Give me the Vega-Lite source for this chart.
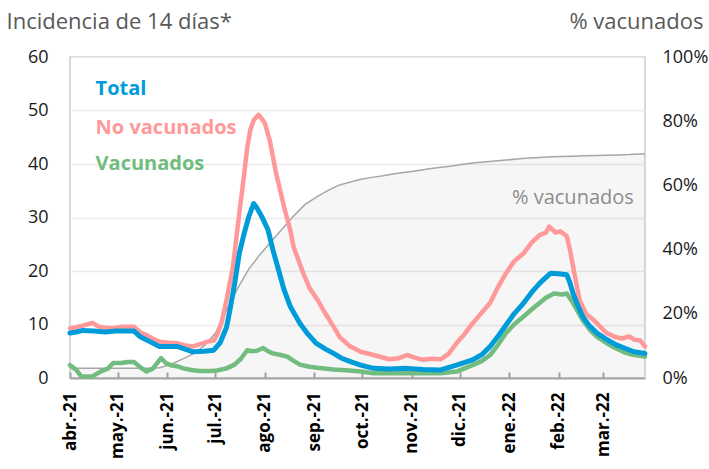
{
  "$schema": "https://vega.github.io/schema/vega-lite/v6.json",
  "width": 575,
  "height": 321,
  "autosize": {"type": "none"},
  "padding": {"left": 70, "top": 57, "right": 64, "bottom": 91},
  "background": "white",
  "config": {
    "font": "Open Sans",
    "view": {"stroke": "#d9d9d9", "strokeWidth": 2}
  },
  "datasets": {
    "vac": [
      {"fecha": "2021-04-01", "pct": 3.0}, {"fecha": "2021-04-08", "pct": 3.0}, {"fecha": "2021-04-15", "pct": 3.0},
      {"fecha": "2021-04-22", "pct": 3.0}, {"fecha": "2021-04-29", "pct": 3.0}, {"fecha": "2021-05-06", "pct": 3.0},
      {"fecha": "2021-05-13", "pct": 3.0}, {"fecha": "2021-05-20", "pct": 3.0}, {"fecha": "2021-05-27", "pct": 3.2},
      {"fecha": "2021-06-03", "pct": 4.2}, {"fecha": "2021-06-10", "pct": 5.8}, {"fecha": "2021-06-17", "pct": 7.5},
      {"fecha": "2021-06-24", "pct": 10.0}, {"fecha": "2021-07-01", "pct": 14.0}, {"fecha": "2021-07-08", "pct": 21.0},
      {"fecha": "2021-07-15", "pct": 28.0}, {"fecha": "2021-07-22", "pct": 34.0}, {"fecha": "2021-07-29", "pct": 38.5},
      {"fecha": "2021-08-05", "pct": 42.5}, {"fecha": "2021-08-12", "pct": 46.5}, {"fecha": "2021-08-19", "pct": 50.5},
      {"fecha": "2021-08-26", "pct": 54.0}, {"fecha": "2021-09-02", "pct": 56.3}, {"fecha": "2021-09-09", "pct": 58.3},
      {"fecha": "2021-09-16", "pct": 60.0}, {"fecha": "2021-09-23", "pct": 61.0}, {"fecha": "2021-09-30", "pct": 61.9},
      {"fecha": "2021-10-07", "pct": 62.5}, {"fecha": "2021-10-14", "pct": 63.0}, {"fecha": "2021-10-21", "pct": 63.6},
      {"fecha": "2021-10-28", "pct": 64.1}, {"fecha": "2021-11-04", "pct": 64.6}, {"fecha": "2021-11-11", "pct": 65.1},
      {"fecha": "2021-11-18", "pct": 65.6}, {"fecha": "2021-11-25", "pct": 66.0}, {"fecha": "2021-12-02", "pct": 66.5},
      {"fecha": "2021-12-09", "pct": 67.0}, {"fecha": "2021-12-16", "pct": 67.3}, {"fecha": "2021-12-23", "pct": 67.6},
      {"fecha": "2021-12-30", "pct": 67.9}, {"fecha": "2022-01-06", "pct": 68.2}, {"fecha": "2022-01-13", "pct": 68.5},
      {"fecha": "2022-01-20", "pct": 68.7}, {"fecha": "2022-01-27", "pct": 68.9}, {"fecha": "2022-02-03", "pct": 69.0},
      {"fecha": "2022-02-10", "pct": 69.1}, {"fecha": "2022-02-17", "pct": 69.2}, {"fecha": "2022-02-24", "pct": 69.3},
      {"fecha": "2022-03-03", "pct": 69.4}, {"fecha": "2022-03-10", "pct": 69.5}, {"fecha": "2022-03-17", "pct": 69.6},
      {"fecha": "2022-03-24", "pct": 69.8}, {"fecha": "2022-03-27", "pct": 69.8}
    ],
    "inc": [
      {"fecha": "2021-04-01", "serie": "Total", "valor": 8.4}, {"fecha": "2021-04-05", "serie": "Total", "valor": 8.6},
      {"fecha": "2021-04-09", "serie": "Total", "valor": 8.9}, {"fecha": "2021-04-16", "serie": "Total", "valor": 8.8},
      {"fecha": "2021-04-23", "serie": "Total", "valor": 8.6}, {"fecha": "2021-04-30", "serie": "Total", "valor": 8.8},
      {"fecha": "2021-05-07", "serie": "Total", "valor": 8.8}, {"fecha": "2021-05-11", "serie": "Total", "valor": 8.8},
      {"fecha": "2021-05-15", "serie": "Total", "valor": 7.7}, {"fecha": "2021-05-21", "serie": "Total", "valor": 6.8},
      {"fecha": "2021-05-27", "serie": "Total", "valor": 5.9}, {"fecha": "2021-06-02", "serie": "Total", "valor": 5.9},
      {"fecha": "2021-06-07", "serie": "Total", "valor": 5.9}, {"fecha": "2021-06-12", "serie": "Total", "valor": 5.4},
      {"fecha": "2021-06-17", "serie": "Total", "valor": 4.9}, {"fecha": "2021-06-24", "serie": "Total", "valor": 5.0},
      {"fecha": "2021-06-30", "serie": "Total", "valor": 5.2}, {"fecha": "2021-07-04", "serie": "Total", "valor": 6.6},
      {"fecha": "2021-07-08", "serie": "Total", "valor": 9.5}, {"fecha": "2021-07-10", "serie": "Total", "valor": 12.5},
      {"fecha": "2021-07-13", "serie": "Total", "valor": 17.5}, {"fecha": "2021-07-16", "serie": "Total", "valor": 23.3},
      {"fecha": "2021-07-19", "serie": "Total", "valor": 27.0}, {"fecha": "2021-07-22", "serie": "Total", "valor": 30.2},
      {"fecha": "2021-07-25", "serie": "Total", "valor": 32.6}, {"fecha": "2021-07-27", "serie": "Total", "valor": 31.8},
      {"fecha": "2021-07-30", "serie": "Total", "valor": 30.2}, {"fecha": "2021-08-03", "serie": "Total", "valor": 27.7},
      {"fecha": "2021-08-06", "serie": "Total", "valor": 24.0}, {"fecha": "2021-08-09", "serie": "Total", "valor": 20.8},
      {"fecha": "2021-08-13", "serie": "Total", "valor": 16.5}, {"fecha": "2021-08-17", "serie": "Total", "valor": 13.3},
      {"fecha": "2021-08-23", "serie": "Total", "valor": 10.2}, {"fecha": "2021-08-28", "serie": "Total", "valor": 8.2},
      {"fecha": "2021-09-02", "serie": "Total", "valor": 6.5}, {"fecha": "2021-09-08", "serie": "Total", "valor": 5.4},
      {"fecha": "2021-09-13", "serie": "Total", "valor": 4.6}, {"fecha": "2021-09-18", "serie": "Total", "valor": 3.7},
      {"fecha": "2021-09-24", "serie": "Total", "valor": 3.0}, {"fecha": "2021-09-30", "serie": "Total", "valor": 2.4},
      {"fecha": "2021-10-08", "serie": "Total", "valor": 1.8}, {"fecha": "2021-10-18", "serie": "Total", "valor": 1.7},
      {"fecha": "2021-10-29", "serie": "Total", "valor": 1.8}, {"fecha": "2021-11-08", "serie": "Total", "valor": 1.6},
      {"fecha": "2021-11-19", "serie": "Total", "valor": 1.5}, {"fecha": "2021-11-29", "serie": "Total", "valor": 2.4},
      {"fecha": "2021-12-09", "serie": "Total", "valor": 3.4}, {"fecha": "2021-12-15", "serie": "Total", "valor": 4.4},
      {"fecha": "2021-12-20", "serie": "Total", "valor": 5.9}, {"fecha": "2021-12-25", "serie": "Total", "valor": 7.8},
      {"fecha": "2021-12-30", "serie": "Total", "valor": 9.9}, {"fecha": "2022-01-04", "serie": "Total", "valor": 12.0},
      {"fecha": "2022-01-10", "serie": "Total", "valor": 14.0}, {"fecha": "2022-01-15", "serie": "Total", "valor": 16.0},
      {"fecha": "2022-01-20", "serie": "Total", "valor": 17.7}, {"fecha": "2022-01-24", "serie": "Total", "valor": 18.8},
      {"fecha": "2022-01-27", "serie": "Total", "valor": 19.6}, {"fecha": "2022-02-01", "serie": "Total", "valor": 19.5},
      {"fecha": "2022-02-06", "serie": "Total", "valor": 19.3}, {"fecha": "2022-02-08", "serie": "Total", "valor": 17.8},
      {"fecha": "2022-02-10", "serie": "Total", "valor": 15.8}, {"fecha": "2022-02-13", "serie": "Total", "valor": 13.5},
      {"fecha": "2022-02-16", "serie": "Total", "valor": 11.5}, {"fecha": "2022-02-20", "serie": "Total", "valor": 9.8},
      {"fecha": "2022-02-25", "serie": "Total", "valor": 8.4}, {"fecha": "2022-03-03", "serie": "Total", "valor": 7.2},
      {"fecha": "2022-03-09", "serie": "Total", "valor": 6.2}, {"fecha": "2022-03-14", "serie": "Total", "valor": 5.6},
      {"fecha": "2022-03-20", "serie": "Total", "valor": 4.9}, {"fecha": "2022-03-27", "serie": "Total", "valor": 4.6},

      {"fecha": "2021-04-01", "serie": "No vacunados", "valor": 9.3}, {"fecha": "2021-04-05", "serie": "No vacunados", "valor": 9.5},
      {"fecha": "2021-04-09", "serie": "No vacunados", "valor": 9.8}, {"fecha": "2021-04-15", "serie": "No vacunados", "valor": 10.3},
      {"fecha": "2021-04-19", "serie": "No vacunados", "valor": 9.6}, {"fecha": "2021-04-23", "serie": "No vacunados", "valor": 9.4},
      {"fecha": "2021-04-28", "serie": "No vacunados", "valor": 9.3}, {"fecha": "2021-05-04", "serie": "No vacunados", "valor": 9.6},
      {"fecha": "2021-05-11", "serie": "No vacunados", "valor": 9.6}, {"fecha": "2021-05-15", "serie": "No vacunados", "valor": 8.5},
      {"fecha": "2021-05-19", "serie": "No vacunados", "valor": 8.0}, {"fecha": "2021-05-23", "serie": "No vacunados", "valor": 7.3},
      {"fecha": "2021-05-27", "serie": "No vacunados", "valor": 6.8}, {"fecha": "2021-06-02", "serie": "No vacunados", "valor": 6.6},
      {"fecha": "2021-06-07", "serie": "No vacunados", "valor": 6.5}, {"fecha": "2021-06-12", "serie": "No vacunados", "valor": 6.1},
      {"fecha": "2021-06-17", "serie": "No vacunados", "valor": 5.9}, {"fecha": "2021-06-22", "serie": "No vacunados", "valor": 6.4},
      {"fecha": "2021-06-26", "serie": "No vacunados", "valor": 6.8}, {"fecha": "2021-06-30", "serie": "No vacunados", "valor": 7.0},
      {"fecha": "2021-07-02", "serie": "No vacunados", "valor": 8.0}, {"fecha": "2021-07-05", "serie": "No vacunados", "valor": 10.5},
      {"fecha": "2021-07-08", "serie": "No vacunados", "valor": 14.6}, {"fecha": "2021-07-12", "serie": "No vacunados", "valor": 20.8},
      {"fecha": "2021-07-16", "serie": "No vacunados", "valor": 30.8}, {"fecha": "2021-07-19", "serie": "No vacunados", "valor": 38.0},
      {"fecha": "2021-07-21", "serie": "No vacunados", "valor": 43.2}, {"fecha": "2021-07-23", "serie": "No vacunados", "valor": 46.5},
      {"fecha": "2021-07-25", "serie": "No vacunados", "valor": 48.2}, {"fecha": "2021-07-28", "serie": "No vacunados", "valor": 49.2},
      {"fecha": "2021-07-30", "serie": "No vacunados", "valor": 48.5}, {"fecha": "2021-08-01", "serie": "No vacunados", "valor": 47.6},
      {"fecha": "2021-08-04", "serie": "No vacunados", "valor": 44.5}, {"fecha": "2021-08-08", "serie": "No vacunados", "valor": 38.3},
      {"fecha": "2021-08-13", "serie": "No vacunados", "valor": 32.0}, {"fecha": "2021-08-17", "serie": "No vacunados", "valor": 27.5},
      {"fecha": "2021-08-19", "serie": "No vacunados", "valor": 24.5}, {"fecha": "2021-08-25", "serie": "No vacunados", "valor": 19.6},
      {"fecha": "2021-08-29", "serie": "No vacunados", "valor": 16.8}, {"fecha": "2021-09-03", "serie": "No vacunados", "valor": 14.6},
      {"fecha": "2021-09-08", "serie": "No vacunados", "valor": 12.0}, {"fecha": "2021-09-13", "serie": "No vacunados", "valor": 9.6},
      {"fecha": "2021-09-17", "serie": "No vacunados", "valor": 7.6}, {"fecha": "2021-09-23", "serie": "No vacunados", "valor": 6.0},
      {"fecha": "2021-09-30", "serie": "No vacunados", "valor": 4.9}, {"fecha": "2021-10-08", "serie": "No vacunados", "valor": 4.3},
      {"fecha": "2021-10-18", "serie": "No vacunados", "valor": 3.5}, {"fecha": "2021-10-24", "serie": "No vacunados", "valor": 3.7},
      {"fecha": "2021-10-29", "serie": "No vacunados", "valor": 4.3}, {"fecha": "2021-11-03", "serie": "No vacunados", "valor": 3.8},
      {"fecha": "2021-11-08", "serie": "No vacunados", "valor": 3.4}, {"fecha": "2021-11-13", "serie": "No vacunados", "valor": 3.6},
      {"fecha": "2021-11-19", "serie": "No vacunados", "valor": 3.5}, {"fecha": "2021-11-24", "serie": "No vacunados", "valor": 4.5},
      {"fecha": "2021-11-29", "serie": "No vacunados", "valor": 6.5}, {"fecha": "2021-12-04", "serie": "No vacunados", "valor": 8.2},
      {"fecha": "2021-12-09", "serie": "No vacunados", "valor": 10.2}, {"fecha": "2021-12-15", "serie": "No vacunados", "valor": 12.3},
      {"fecha": "2021-12-20", "serie": "No vacunados", "valor": 14.0}, {"fecha": "2021-12-25", "serie": "No vacunados", "valor": 17.0},
      {"fecha": "2021-12-30", "serie": "No vacunados", "valor": 19.6}, {"fecha": "2022-01-04", "serie": "No vacunados", "valor": 21.8},
      {"fecha": "2022-01-10", "serie": "No vacunados", "valor": 23.3}, {"fecha": "2022-01-15", "serie": "No vacunados", "valor": 25.3},
      {"fecha": "2022-01-20", "serie": "No vacunados", "valor": 26.7}, {"fecha": "2022-01-24", "serie": "No vacunados", "valor": 27.2},
      {"fecha": "2022-01-26", "serie": "No vacunados", "valor": 28.3}, {"fecha": "2022-01-30", "serie": "No vacunados", "valor": 27.2},
      {"fecha": "2022-02-02", "serie": "No vacunados", "valor": 27.4}, {"fecha": "2022-02-06", "serie": "No vacunados", "valor": 26.5},
      {"fecha": "2022-02-08", "serie": "No vacunados", "valor": 24.0}, {"fecha": "2022-02-10", "serie": "No vacunados", "valor": 20.8},
      {"fecha": "2022-02-14", "serie": "No vacunados", "valor": 14.6}, {"fecha": "2022-02-18", "serie": "No vacunados", "valor": 12.0},
      {"fecha": "2022-02-23", "serie": "No vacunados", "valor": 10.8}, {"fecha": "2022-03-03", "serie": "No vacunados", "valor": 8.4},
      {"fecha": "2022-03-09", "serie": "No vacunados", "valor": 7.6}, {"fecha": "2022-03-13", "serie": "No vacunados", "valor": 7.4},
      {"fecha": "2022-03-17", "serie": "No vacunados", "valor": 7.8}, {"fecha": "2022-03-20", "serie": "No vacunados", "valor": 7.2},
      {"fecha": "2022-03-24", "serie": "No vacunados", "valor": 7.0}, {"fecha": "2022-03-27", "serie": "No vacunados", "valor": 5.9},

      {"fecha": "2021-04-01", "serie": "Vacunados", "valor": 2.4}, {"fecha": "2021-04-05", "serie": "Vacunados", "valor": 1.5},
      {"fecha": "2021-04-08", "serie": "Vacunados", "valor": 0.3}, {"fecha": "2021-04-15", "serie": "Vacunados", "valor": 0.3},
      {"fecha": "2021-04-20", "serie": "Vacunados", "valor": 1.2}, {"fecha": "2021-04-25", "serie": "Vacunados", "valor": 1.8},
      {"fecha": "2021-04-28", "serie": "Vacunados", "valor": 2.8}, {"fecha": "2021-05-03", "serie": "Vacunados", "valor": 2.8},
      {"fecha": "2021-05-07", "serie": "Vacunados", "valor": 3.0}, {"fecha": "2021-05-11", "serie": "Vacunados", "valor": 3.0},
      {"fecha": "2021-05-15", "serie": "Vacunados", "valor": 2.0}, {"fecha": "2021-05-19", "serie": "Vacunados", "valor": 1.2},
      {"fecha": "2021-05-23", "serie": "Vacunados", "valor": 1.8}, {"fecha": "2021-05-28", "serie": "Vacunados", "valor": 3.7},
      {"fecha": "2021-05-31", "serie": "Vacunados", "valor": 2.8}, {"fecha": "2021-06-03", "serie": "Vacunados", "valor": 2.4},
      {"fecha": "2021-06-07", "serie": "Vacunados", "valor": 2.2}, {"fecha": "2021-06-11", "serie": "Vacunados", "valor": 1.8},
      {"fecha": "2021-06-16", "serie": "Vacunados", "valor": 1.5}, {"fecha": "2021-06-21", "serie": "Vacunados", "valor": 1.3},
      {"fecha": "2021-06-28", "serie": "Vacunados", "valor": 1.3}, {"fecha": "2021-07-02", "serie": "Vacunados", "valor": 1.4},
      {"fecha": "2021-07-08", "serie": "Vacunados", "valor": 1.8}, {"fecha": "2021-07-13", "serie": "Vacunados", "valor": 2.5},
      {"fecha": "2021-07-17", "serie": "Vacunados", "valor": 3.6}, {"fecha": "2021-07-21", "serie": "Vacunados", "valor": 5.2},
      {"fecha": "2021-07-24", "serie": "Vacunados", "valor": 5.0}, {"fecha": "2021-07-27", "serie": "Vacunados", "valor": 5.1},
      {"fecha": "2021-07-31", "serie": "Vacunados", "valor": 5.6}, {"fecha": "2021-08-03", "serie": "Vacunados", "valor": 5.0},
      {"fecha": "2021-08-06", "serie": "Vacunados", "valor": 4.6}, {"fecha": "2021-08-11", "serie": "Vacunados", "valor": 4.3},
      {"fecha": "2021-08-15", "serie": "Vacunados", "valor": 4.0}, {"fecha": "2021-08-19", "serie": "Vacunados", "valor": 3.2},
      {"fecha": "2021-08-23", "serie": "Vacunados", "valor": 2.5}, {"fecha": "2021-08-29", "serie": "Vacunados", "valor": 2.1},
      {"fecha": "2021-09-03", "serie": "Vacunados", "valor": 1.9}, {"fecha": "2021-09-13", "serie": "Vacunados", "valor": 1.6},
      {"fecha": "2021-09-23", "serie": "Vacunados", "valor": 1.4}, {"fecha": "2021-09-30", "serie": "Vacunados", "valor": 1.2},
      {"fecha": "2021-10-08", "serie": "Vacunados", "valor": 0.9}, {"fecha": "2021-10-29", "serie": "Vacunados", "valor": 0.9},
      {"fecha": "2021-11-19", "serie": "Vacunados", "valor": 0.9}, {"fecha": "2021-11-29", "serie": "Vacunados", "valor": 1.2},
      {"fecha": "2021-12-09", "serie": "Vacunados", "valor": 2.4}, {"fecha": "2021-12-15", "serie": "Vacunados", "valor": 3.2},
      {"fecha": "2021-12-20", "serie": "Vacunados", "valor": 4.3}, {"fecha": "2021-12-25", "serie": "Vacunados", "valor": 6.2},
      {"fecha": "2021-12-30", "serie": "Vacunados", "valor": 8.4}, {"fecha": "2022-01-04", "serie": "Vacunados", "valor": 10.0},
      {"fecha": "2022-01-10", "serie": "Vacunados", "valor": 11.5}, {"fecha": "2022-01-15", "serie": "Vacunados", "valor": 12.8},
      {"fecha": "2022-01-20", "serie": "Vacunados", "valor": 14.0}, {"fecha": "2022-01-24", "serie": "Vacunados", "valor": 15.0},
      {"fecha": "2022-01-29", "serie": "Vacunados", "valor": 15.8}, {"fecha": "2022-02-03", "serie": "Vacunados", "valor": 15.6},
      {"fecha": "2022-02-06", "serie": "Vacunados", "valor": 15.8}, {"fecha": "2022-02-10", "serie": "Vacunados", "valor": 14.0},
      {"fecha": "2022-02-16", "serie": "Vacunados", "valor": 10.8}, {"fecha": "2022-02-21", "serie": "Vacunados", "valor": 8.8},
      {"fecha": "2022-02-25", "serie": "Vacunados", "valor": 7.7}, {"fecha": "2022-03-03", "serie": "Vacunados", "valor": 6.5},
      {"fecha": "2022-03-09", "serie": "Vacunados", "valor": 5.5}, {"fecha": "2022-03-14", "serie": "Vacunados", "valor": 4.8},
      {"fecha": "2022-03-20", "serie": "Vacunados", "valor": 4.3}, {"fecha": "2022-03-27", "serie": "Vacunados", "valor": 4.0}
    ],
    "etiquetas": [
      {"fecha": "2021-04-17", "valor": 52.9, "serie": "Total"},
      {"fecha": "2021-04-17", "valor": 45.7, "serie": "No vacunados"},
      {"fecha": "2021-04-17", "valor": 38.9, "serie": "Vacunados"}
    ],
    "etiquetaVac": [
      {"fecha": "2022-03-20", "valor": 32.6, "texto": "% vacunados"}
    ]
  },
  "encoding": {
    "x": {
      "field": "fecha",
      "type": "temporal",
      "scale": {
        "type": "utc",
        "domain": [
          {"year": 2021, "month": 4, "date": 1, "utc": true},
          {"year": 2022, "month": 3, "date": 27, "utc": true}
        ]
      },
      "axis": {
        "title": null,
        "grid": false,
        "values": [
          {"year": 2021, "month": 4, "date": 1, "utc": true},
          {"year": 2021, "month": 5, "date": 1, "utc": true},
          {"year": 2021, "month": 6, "date": 1, "utc": true},
          {"year": 2021, "month": 7, "date": 1, "utc": true},
          {"year": 2021, "month": 8, "date": 1, "utc": true},
          {"year": 2021, "month": 9, "date": 1, "utc": true},
          {"year": 2021, "month": 10, "date": 1, "utc": true},
          {"year": 2021, "month": 11, "date": 1, "utc": true},
          {"year": 2021, "month": 12, "date": 1, "utc": true},
          {"year": 2022, "month": 1, "date": 1, "utc": true},
          {"year": 2022, "month": 2, "date": 1, "utc": true},
          {"year": 2022, "month": 3, "date": 1, "utc": true}
        ],
        "labelExpr": "['ene.','feb.','mar.','abr.','may.','jun.','jul.','ago.','sep.','oct.','nov.','dic.'][utcmonth(datum.value)] + '-' + utcFormat(datum.value, '%y')",
        "labelAngle": 270,
        "labelAlign": "right",
        "labelBaseline": "middle",
        "labelFontWeight": "bold",
        "labelFontSize": 17,
        "labelColor": "#000000",
        "labelPadding": 20,
        "labelOverlap": false,
        "labelFlush": false,
        "domainColor": "#a6a6a6",
        "domainWidth": 2,
        "tickColor": "#a6a6a6",
        "tickWidth": 2,
        "tickSize": -6
      }
    }
  },
  "layer": [
    {
      "data": {"name": "vac"},
      "encoding": {
        "y": {
          "field": "pct",
          "type": "quantitative",
          "scale": {"domain": [0, 100]},
          "axis": {
            "orient": "right",
            "values": [0, 20, 40, 60, 80, 100],
            "labelExpr": "datum.value + '%'",
            "grid": false,
            "domain": false,
            "ticks": false,
            "labelPadding": 17,
            "labelFontSize": 18,
            "labelColor": "#1a1a1a",
            "title": "% vacunados",
            "titleAngle": 0,
            "titleX": 58,
            "titleY": -29,
            "titleAlign": "right",
            "titleBaseline": "alphabetic",
            "titleFontSize": 22,
            "titleFontWeight": "normal",
            "titleColor": "#595959"
          }
        }
      },
      "layer": [
        {"mark": {"type": "area", "fill": "#000000", "fillOpacity": 0.035}},
        {"mark": {"type": "line", "color": "#a6a6a6", "strokeWidth": 1.5}}
      ]
    },
    {
      "encoding": {
        "y": {
          "field": "valor",
          "type": "quantitative",
          "scale": {"domain": [0, 60]},
          "axis": {
            "orient": "left",
            "values": [0, 10, 20, 30, 40, 50, 60],
            "grid": true,
            "gridColor": "#ebebeb",
            "gridWidth": 1.5,
            "domain": false,
            "ticks": false,
            "labelPadding": 22,
            "labelFontSize": 18,
            "labelColor": "#1a1a1a",
            "title": "Incidencia de 14 días*",
            "titleAngle": 0,
            "titleX": -64,
            "titleY": -29,
            "titleAlign": "left",
            "titleBaseline": "alphabetic",
            "titleFontSize": 22,
            "titleFontWeight": "normal",
            "titleColor": "#595959"
          }
        },
        "color": {
          "field": "serie",
          "type": "nominal",
          "scale": {"domain": ["Total", "No vacunados", "Vacunados"], "range": ["#009bd9", "#ff9999", "#72bc80"]},
          "legend": null
        }
      },
      "layer": [
        {
          "data": {"name": "inc"},
          "transform": [{"filter": "datum.serie === 'No vacunados'"}],
          "mark": {"type": "line", "strokeWidth": 4.5, "strokeJoin": "round", "strokeCap": "round"}
        },
        {
          "data": {"name": "inc"},
          "transform": [{"filter": "datum.serie === 'Vacunados'"}],
          "mark": {"type": "line", "strokeWidth": 4.5, "strokeJoin": "round", "strokeCap": "round"}
        },
        {
          "data": {"name": "inc"},
          "transform": [{"filter": "datum.serie === 'Total'"}],
          "mark": {"type": "line", "strokeWidth": 5, "strokeJoin": "round", "strokeCap": "round"}
        },
        {
          "data": {"name": "etiquetas"},
          "mark": {"type": "text", "align": "left", "baseline": "alphabetic", "fontSize": 20, "fontWeight": "bold"},
          "encoding": {"text": {"field": "serie"}}
        },
        {
          "data": {"name": "etiquetaVac"},
          "mark": {"type": "text", "align": "right", "baseline": "alphabetic", "fontSize": 20, "color": "#8c8c8c"},
          "encoding": {"text": {"field": "texto"}, "color": {"value": "#8c8c8c"}}
        }
      ]
    }
  ],
  "resolve": {"scale": {"y": "independent"}}
}
